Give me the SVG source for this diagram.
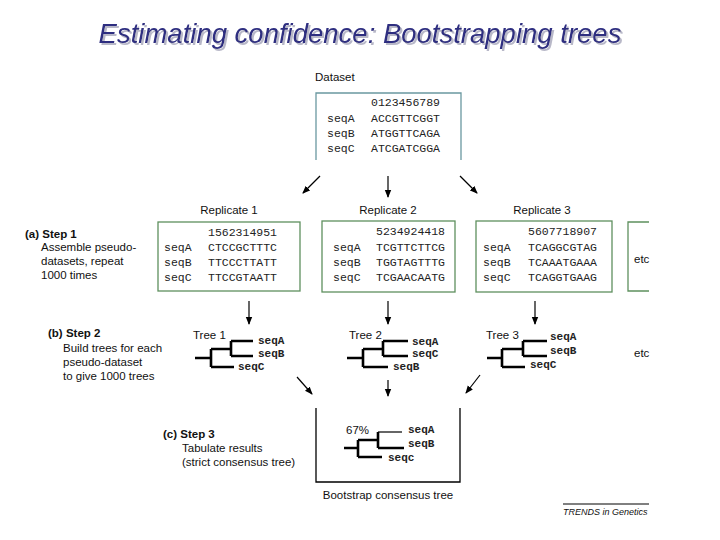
<svg xmlns="http://www.w3.org/2000/svg" width="720" height="540" viewBox="0 0 720 540">
<defs>
<marker id="ah" markerWidth="8" markerHeight="8" refX="7" refY="4" orient="auto" markerUnits="userSpaceOnUse">
<path d="M0,0.8 L8,4 L0,7.2 Z" fill="#000"/>
</marker>
<filter id="sh" x="-5%" y="-30%" width="110%" height="160%">
<feOffset in="SourceAlpha" dx="2" dy="2" result="o"/>
<feFlood flood-color="#b8b8c8"/>
<feComposite in2="o" operator="in" result="s"/>
<feMerge><feMergeNode in="s"/><feMergeNode in="SourceGraphic"/></feMerge>
</filter>
<style>
.title{font-family:"Liberation Sans",Arial,sans-serif;font-size:27.5px;font-style:italic;fill:#2e2e80}
.lbl{font-family:"Liberation Sans",Arial,sans-serif;font-size:11.5px;fill:#111}
.step{font-family:"Liberation Sans",Arial,sans-serif;font-size:11.5px;font-weight:bold;fill:#111}
.mono{font-family:"Liberation Mono","Courier New",monospace;font-size:11.5px;fill:#222}
.tl{font-family:"Liberation Mono","Courier New",monospace;font-size:11px;font-weight:bold;fill:#222}
.dbox{fill:none;stroke:#6a98a0;stroke-width:1.3}
.gbox{fill:none;stroke:#5e905e;stroke-width:1.3}
.tree{fill:none;stroke:#000;stroke-width:2.6}
.thin{fill:none;stroke:#000;stroke-width:1.2}
.arr{fill:none;stroke:#000;stroke-width:1.2;marker-end:url(#ah)}
.foot{font-family:"Liberation Sans",Arial,sans-serif;font-size:9px;font-style:italic;fill:#111}
</style>
</defs>
<rect width="720" height="540" fill="#fff"/>

<g id="title">
<text class="title" x="360" y="43" text-anchor="middle" filter="url(#sh)">Estimating confidence: Bootstrapping trees</text>
</g>

<g id="dataset">
<text class="lbl" x="315" y="81">Dataset</text>
<path class="dbox" d="M316,160 V93 H461 V160"/>
<text class="mono" x="371" y="106">0123456789</text>
<text class="mono" x="327" y="122">seqA</text><text class="mono" x="371" y="122">ACCGTTCGGT</text>
<text class="mono" x="327" y="137">seqB</text><text class="mono" x="371" y="137">ATGGTTCAGA</text>
<text class="mono" x="327" y="152">seqC</text><text class="mono" x="371" y="152">ATCGATCGGA</text>
</g>

<g id="step1">
<text class="step" x="25" y="238">(a) Step 1</text>
<text class="lbl" x="41" y="251">Assemble pseudo-</text>
<text class="lbl" x="41" y="265">datasets, repeat</text>
<text class="lbl" x="41" y="279">1000 times</text>
</g>

<g id="replicate1">
<text class="lbl" x="229" y="214" text-anchor="middle">Replicate 1</text>
<rect class="gbox" x="158" y="222" width="142" height="69"/>
<text class="mono" x="208" y="236">1562314951</text>
<text class="mono" x="164" y="251">seqA</text><text class="mono" x="208" y="251">CTCCGCTTTC</text>
<text class="mono" x="164" y="266">seqB</text><text class="mono" x="208" y="266">TTCCCTTATT</text>
<text class="mono" x="164" y="281">seqC</text><text class="mono" x="208" y="281">TTCCGTAATT</text>
</g>

<g id="replicate2">
<text class="lbl" x="388" y="214" text-anchor="middle">Replicate 2</text>
<rect class="gbox" x="322" y="221" width="133" height="71"/>
<text class="mono" x="376" y="235">5234924418</text>
<text class="mono" x="333" y="251">seqA</text><text class="mono" x="376" y="251">TCGTTCTTCG</text>
<text class="mono" x="333" y="266">seqB</text><text class="mono" x="376" y="266">TGGTAGTTTG</text>
<text class="mono" x="333" y="281">seqC</text><text class="mono" x="376" y="281">TCGAACAATG</text>
</g>

<g id="replicate3">
<text class="lbl" x="542" y="214" text-anchor="middle">Replicate 3</text>
<rect class="gbox" x="476" y="221" width="136" height="71"/>
<text class="mono" x="528" y="235">5607718907</text>
<text class="mono" x="483" y="251">seqA</text><text class="mono" x="528" y="251">TCAGGCGTAG</text>
<text class="mono" x="483" y="266">seqB</text><text class="mono" x="528" y="266">TCAAATGAAA</text>
<text class="mono" x="483" y="281">seqC</text><text class="mono" x="528" y="281">TCAGGTGAAG</text>
</g>

<g id="etc1">
<path class="gbox" d="M649,222 H628 V291 H649"/>
<text class="lbl" x="634" y="263">etc</text>
</g>

<g id="step2">
<text class="step" x="48" y="337">(b) Step 2</text>
<text class="lbl" x="63" y="352">Build trees for each</text>
<text class="lbl" x="63" y="366">pseudo-dataset</text>
<text class="lbl" x="63" y="380">to give 1000 trees</text>
</g>

<g id="tree1">
<text class="lbl" x="193" y="339">Tree 1</text>
<path class="tree" d="M195,358 H211 M211,349 V367 M211,349 H231 M231,341 V356 M231,341 H253 M231,356 H253 M211,367 H234"/>
<text class="tl" x="258" y="344">seqA</text>
<text class="tl" x="258" y="357">seqB</text>
<text class="tl" x="238" y="370">seqC</text>
</g>

<g id="tree2">
<text class="lbl" x="349" y="339">Tree 2</text>
<path class="tree" d="M347,358 H363 M363,349 V367 M363,349 H383 M383,341 V356 M383,341 H408 M383,356 H408 M363,367 H388"/>
<text class="tl" x="412" y="345">seqA</text>
<text class="tl" x="412" y="357">seqC</text>
<text class="tl" x="393" y="370">seqB</text>
</g>

<g id="tree3">
<text class="lbl" x="486" y="339">Tree 3</text>
<path class="tree" d="M487,358 H502 M502,349 V367 M502,349 H523 M523,341 V356 M523,341 H547 M523,356 H547 M502,367 H525"/>
<text class="tl" x="550" y="340">seqA</text>
<text class="tl" x="550" y="354">seqB</text>
<text class="tl" x="530" y="368">seqC</text>
</g>

<g id="etc2">
<text class="lbl" x="634" y="357">etc</text>
</g>

<g id="step3">
<text class="step" x="163" y="438">(c) Step 3</text>
<text class="lbl" x="182" y="452">Tabulate results</text>
<text class="lbl" x="182" y="466">(strict consensus tree)</text>
</g>

<g id="consensus">
<path d="M316,408 V482 H460 V408" fill="none" stroke="#000" stroke-width="1.3"/>
<text class="lbl" x="346" y="434">67%</text>
<path class="tree" d="M344,448 H358 M358,440 V457 M358,440 H378 M378,432 V448 M378,448 H404 M358,457 H382"/>
<path class="thin" d="M378,432 H402"/>
<text class="tl" x="408" y="433">seqA</text>
<text class="tl" x="408" y="447">seqB</text>
<text class="tl" x="388" y="461">seqc</text>
<text class="lbl" x="388" y="499" text-anchor="middle">Bootstrap consensus tree</text>
</g>

<g id="connectors">
<line class="arr" x1="320" y1="176" x2="303" y2="193"/>
<line class="arr" x1="388" y1="176" x2="388" y2="197"/>
<line class="arr" x1="460" y1="176" x2="477" y2="193"/>
<line class="arr" x1="249" y1="301" x2="249" y2="324"/>
<line class="arr" x1="388" y1="301" x2="388" y2="324"/>
<line class="arr" x1="535" y1="301" x2="535" y2="324"/>
<line class="arr" x1="297" y1="377" x2="312" y2="394"/>
<line class="arr" x1="388" y1="380" x2="388" y2="396"/>
<line class="arr" x1="480" y1="375" x2="466" y2="393"/>
</g>

<g id="footer">
<line x1="563" y1="504" x2="649" y2="504" stroke="#000" stroke-width="1"/>
<text class="foot" x="563" y="515">TRENDS in Genetics</text>
</g>
</svg>
